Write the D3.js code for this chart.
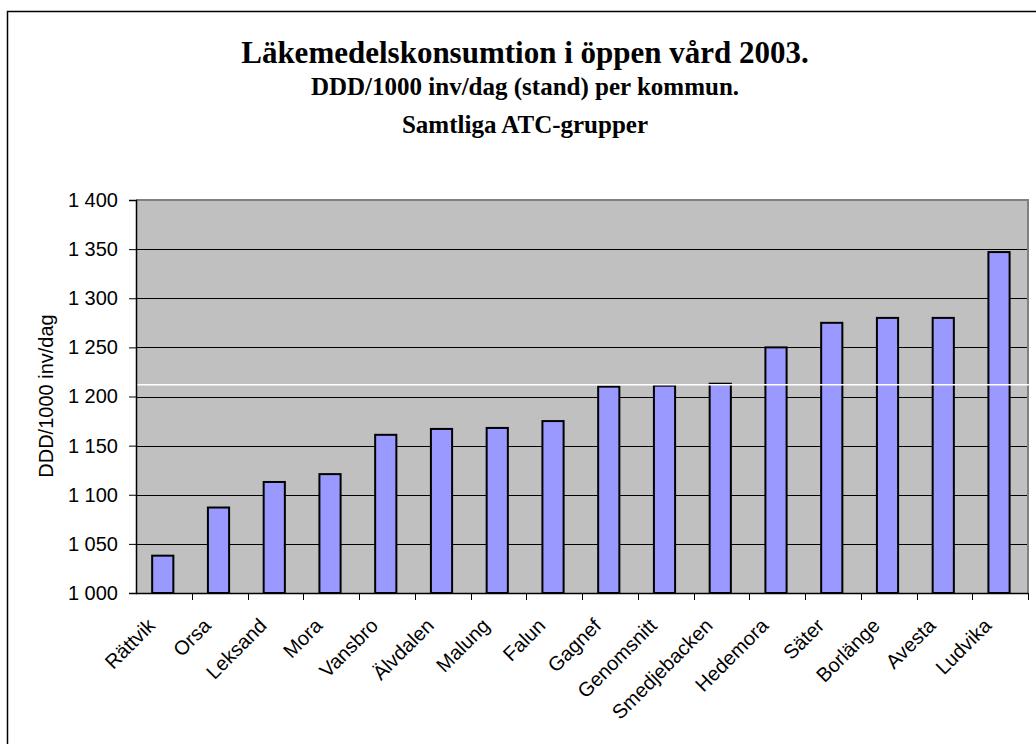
<!DOCTYPE html>
<html><head><meta charset="utf-8">
<script src="https://cdn.jsdelivr.net/npm/d3@7"></script>
<style>body{margin:0;background:#fff}svg{display:block}</style>
</head><body>
<svg id="c" width="1036" height="744"></svg>
<script>
const categories = ["Rättvik","Orsa","Leksand","Mora","Vansbro","Älvdalen","Malung","Falun","Gagnef","Genomsnitt","Smedjebacken","Hedemora","Säter","Borlänge","Avesta","Ludvika"];
const values = [1038,1087,1113,1121,1161,1167,1168,1175,1210,1211,1213,1250,1275,1280,1280,1347];
const yTicks = [1000,1050,1100,1150,1200,1250,1300,1350,1400];
const averageLine = 1212;
const titleLines = ["Läkemedelskonsumtion i öppen vård 2003.","DDD/1000 inv/dag (stand) per kommun.","Samtliga ATC-grupper"];
const yAxisTitle = "DDD/1000 inv/dag";

const svg = d3.select("#c");
const L=136, R=1028, T=200, B=593;
const sans = "Arial, 'Liberation Sans', sans-serif";
const serif = "'Liberation Serif','Times New Roman',serif";

svg.append("rect").attr("x",7.5).attr("y",11.5).attr("width",1200).attr("height",900)
  .attr("fill","#fff").attr("stroke","#000").attr("stroke-width",1.5);

const x = d3.scaleBand().domain(categories).range([L,R]);
const y = d3.scaleLinear().domain([1000,1400]).range([B,T]);
const fmt = v => d3.format(",")(v).replace(",", " ");

svg.append("rect").attr("x",L).attr("y",T).attr("width",R-L).attr("height",B-T).attr("fill","#C0C0C0");

// gridlines
svg.append("g").selectAll("line").data(yTicks.filter(v=>v>1000 && v<1400)).join("line")
  .attr("x1",L).attr("x2",R).attr("y1",d=>Math.round(y(d))+0.5).attr("y2",d=>Math.round(y(d))+0.5)
  .attr("stroke","#000").attr("stroke-width",1);

// plot border top/right
svg.append("path").attr("d",`M${L},${T} H${R} V${B}`).attr("fill","none").attr("stroke","#808080").attr("stroke-width",2);

// bars
const bw = x.bandwidth();
svg.append("g").selectAll("rect").data(values).join("rect")
  .attr("x",(d,i)=>x(categories[i])+bw*0.29)
  .attr("width",bw*0.38)
  .attr("y",d=>y(d))
  .attr("height",d=>y(1000)-y(d))
  .attr("fill","#9999FF").attr("stroke","#000").attr("stroke-width",2);

// average white line
svg.append("line").attr("x1",L-2).attr("x2",R+3).attr("y1",y(averageLine)).attr("y2",y(averageLine))
  .attr("stroke","#fff").attr("stroke-width",1.5);

// y axis
const yAxis = d3.axisLeft(y).tickValues(yTicks).tickSize(7).tickPadding(11).tickFormat(fmt);
const gy = svg.append("g").attr("transform",`translate(${L},0)`).call(yAxis);
gy.select(".domain").attr("stroke","#000").attr("stroke-width",1.5);
gy.selectAll(".tick line").attr("stroke","#000");
gy.selectAll("text").attr("font-family",sans).attr("font-size",20).attr("fill","#000");

// x axis
const gx = svg.append("g").attr("transform",`translate(0,${B})`);
gx.append("line").attr("x1",L).attr("x2",R).attr("y1",0.5).attr("y2",0.5).attr("stroke","#000").attr("stroke-width",1.5);
gx.selectAll("line.t").data(categories).join("line").attr("class","t")
  .attr("x1",(d,i)=>Math.round(x(d)+bw)+0.5).attr("x2",(d,i)=>Math.round(x(d)+bw)+0.5)
  .attr("y1",0).attr("y2",7).attr("stroke","#000");
gx.selectAll("text").data(categories).join("text")
  .attr("transform",d=>`translate(${x(d)+bw/2-7.5},${34}) rotate(-45)`)
  .attr("text-anchor","end")
  .attr("font-family",sans).attr("font-size",20).attr("fill","#000")
  .text(d=>d);

// y title
svg.append("text").attr("transform","translate(53,396) rotate(-90)").attr("text-anchor","middle")
  .attr("font-family",sans).attr("font-size",20).text(yAxisTitle);

// titles
const tx = 525;
svg.append("text").attr("x",tx).attr("y",63).attr("text-anchor","middle")
  .attr("font-family",serif).attr("font-weight","bold").attr("font-size",31).text(titleLines[0]);
svg.append("text").attr("x",tx).attr("y",95).attr("text-anchor","middle")
  .attr("font-family",serif).attr("font-weight","bold").attr("font-size",25).text(titleLines[1]);
svg.append("text").attr("x",tx).attr("y",133).attr("text-anchor","middle")
  .attr("font-family",serif).attr("font-weight","bold").attr("font-size",25).text(titleLines[2]);
</script>
</body></html>
